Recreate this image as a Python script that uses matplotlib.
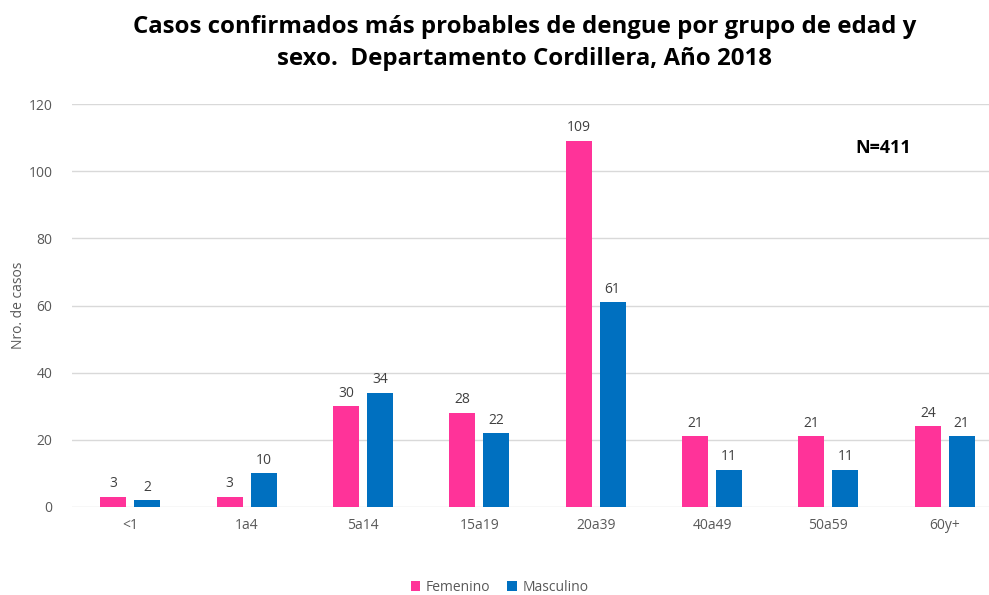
import matplotlib
matplotlib.use("Agg")
from matplotlib import pyplot as plt
import numpy as np

# Datos: casos confirmados por grupo de edad y sexo
grupos = ['<1', '1a4', '5a14', '15a19', '20a39', '40a49', '50a59', '60y+']
femenino = [3, 3, 30, 28, 109, 21, 21, 24]
masculino = [2, 10, 34, 22, 61, 11, 11, 21]

color_fem = '#FF3399'
color_mas = '#0070C0'
txt = '#595959'

plt.rcParams['font.family'] = ['Open Sans', 'DejaVu Sans']

fig = plt.figure(figsize=(9.89, 5.95), dpi=100)
ax = fig.add_axes([0.0728, 0.148, 0.9272, 0.677])

x = np.arange(len(grupos))
w = 0.223
off = 0.146
b1 = ax.bar(x - off, femenino, w, color=color_fem, label='Femenino')
b2 = ax.bar(x + off, masculino, w, color=color_mas, label='Masculino')

for bars in (b1, b2):
    for r in bars:
        ax.annotate(f'{int(r.get_height())}', (r.get_x() + r.get_width() / 2, r.get_height()),
                    xytext=(0, 4), textcoords='offset points', ha='center', va='bottom',
                    fontsize=10, color='#404040')

ax.set_xlim(-0.5, 7.38)
ax.set_ylim(0, 120)
ax.set_yticks(range(0, 121, 20))
ax.set_xticks(x)
ax.set_xticklabels(grupos)
ax.tick_params(length=0, labelsize=10, colors=txt, pad=8)
ax.tick_params(axis='y', pad=14)
ax.grid(axis='y', color='#D9D9D9', linewidth=1)
ax.set_axisbelow(True)
for s in ax.spines.values():
    s.set_visible(False)
ax.set_ylabel('Nro. de casos', fontsize=10, color=txt)
ax.yaxis.set_label_coords(-0.05, 0.5)

fig.text(0.53, 0.975, 'Casos confirmados más probables de dengue por grupo de edad y\nsexo.  Departamento Cordillera, Año 2018',
         ha='center', va='top', fontsize=17.3, fontweight='bold', color='black', linespacing=1.45)
ax.text(0.885, 0.89, 'N=411', transform=ax.transAxes, ha='center', va='center',
        fontsize=13, fontweight='bold', color='black')

fig.legend(handles=[b1, b2], loc='center', bbox_to_anchor=(0.505, 0.013), ncol=2, frameon=False,
           fontsize=10, handlelength=0.7, handleheight=0.7, columnspacing=1.2, handletextpad=0.4,
           labelcolor=txt)

fig.savefig('out.png', dpi=100)
